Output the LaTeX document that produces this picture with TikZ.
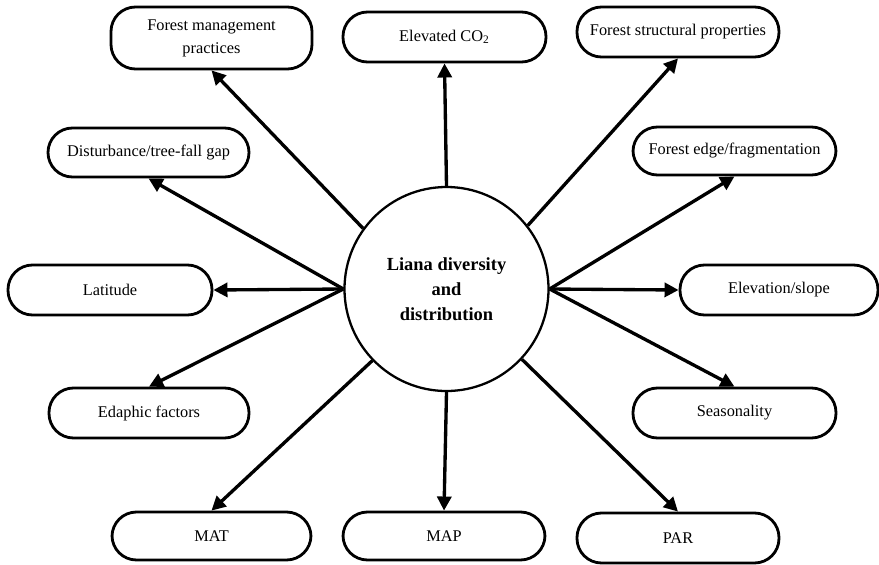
\documentclass[tikz,border=0pt]{standalone}
\usepackage{fontspec}
\setmainfont{Liberation Serif}
\usetikzlibrary{shapes,arrows.meta}
\tikzstyle{bx}=[draw=black,line width=1.6pt,rounded corners=.49cm,minimum width=4.02cm,minimum height=1cm,inner sep=1pt,align=center,font=\fontsize{9.3}{13}\selectfont]
\tikzstyle{hub}=[circle,draw=black,line width=1.3pt,minimum size=4.08cm,inner sep=1pt,align=center,font=\fontsize{10.5}{14.2}\selectfont\bfseries]
\tikzstyle{ar}=[-{Triangle[length=8pt,width=8pt]},line width=1.9pt]

\begin{document}
\begin{tikzpicture}
	\useasboundingbox (0,0) rectangle (17.58,-11.28);
	\node[hub] (c) at (8.93,-5.78) {Liana diversity\\and\\distribution};
	\node[bx,minimum height=1.24cm] (fmp) at (4.23,-.76) {Forest management\\practices};
	\node[bx,minimum width=4.06cm] (co2) at (8.89,-.74) {Elevated CO\textsubscript{2}};
	\node[bx,minimum width=4.04cm] (fsp) at (13.56,-.64) {Forest structural properties};
	\node[bx,minimum height=.98cm] (dist) at (2.97,-3.05) {Disturbance/tree-fall gap};
	\node[bx,minimum width=4.06cm,minimum height=.96cm] (edge) at (14.69,-3.02) {Forest edge/fragmentation};
	\node[bx,minimum width=4.08cm] (lat) at (2.2,-5.8) {Latitude};
	\node[bx,minimum width=3.96cm] (elev) at (15.58,-5.8) {Elevation/slope};
	\node[bx,minimum width=4cm] (edaph) at (2.98,-8.26) {Edaphic factors};
	\node[bx,minimum width=4.06cm] (seas) at (14.69,-8.26) {Seasonality};
	\node[bx,minimum width=3.98cm,minimum height=.96cm] (mat) at (4.23,-10.72) {MAT};
	\node[bx,minimum width=4.04cm,minimum height=.96cm] (map) at (8.88,-10.72) {MAP};
	\node[bx,minimum width=4.04cm] (par) at (13.56,-10.76) {PAR};
	\draw[ar] (c.144) -- (fmp.south);
	\draw[ar] (c.north) -- (co2.south);
	\draw[ar] (c.38) -- (fsp.south);
	\draw[ar] (c.west) -- (dist.south);
	\draw[ar] (c.east) -- (edge.south);
	\draw[ar] (c.west) -- (lat.east);
	\draw[ar] (c.east) -- (elev.west);
	\draw[ar] (c.west) -- (edaph.north);
	\draw[ar] (c.east) -- (seas.north);
	\draw[ar] (c.224) -- (mat.north);
	\draw[ar] (c.south) -- (map.north);
	\draw[ar] (c.317) -- (par.north);
\end{tikzpicture}
\end{document}
